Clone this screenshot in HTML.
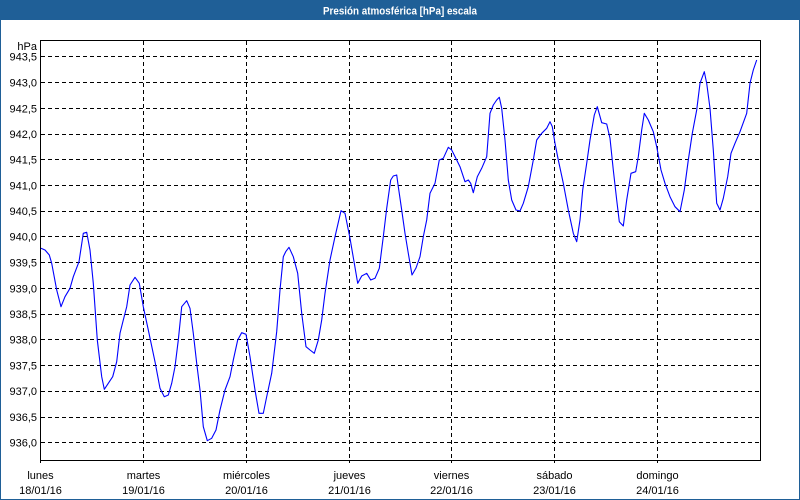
<!DOCTYPE html>
<html><head><meta charset="utf-8"><style>
html,body{margin:0;padding:0;background:#fff;}
svg{display:block;}
text{font-family:"Liberation Sans",sans-serif;}
</style></head><body>
<svg width="800" height="500" viewBox="0 0 800 500" xmlns="http://www.w3.org/2000/svg">
<rect x="0" y="0" width="800" height="500" fill="#fff"/>
<rect x="0" y="0" width="800" height="20" fill="#1f5f97"/>
<rect x="0" y="0" width="1" height="500" fill="#1f5f97"/>
<rect x="799" y="0" width="1" height="500" fill="#1f5f97"/>
<rect x="0" y="499" width="800" height="1" fill="#1f5f97"/>
<text x="400" y="14.5" fill="#fff" font-size="11" font-weight="bold" text-anchor="middle" textLength="154" lengthAdjust="spacingAndGlyphs">Presión atmosférica [hPa] escala</text>

<g stroke="#000" stroke-width="1" stroke-dasharray="4 3" fill="none" shape-rendering="crispEdges">
<line x1="41" y1="56.5" x2="760" y2="56.5"/>
<line x1="41" y1="82.5" x2="760" y2="82.5"/>
<line x1="41" y1="108.5" x2="760" y2="108.5"/>
<line x1="41" y1="134.5" x2="760" y2="134.5"/>
<line x1="41" y1="159.5" x2="760" y2="159.5"/>
<line x1="41" y1="185.5" x2="760" y2="185.5"/>
<line x1="41" y1="211.5" x2="760" y2="211.5"/>
<line x1="41" y1="236.5" x2="760" y2="236.5"/>
<line x1="41" y1="262.5" x2="760" y2="262.5"/>
<line x1="41" y1="288.5" x2="760" y2="288.5"/>
<line x1="41" y1="314.5" x2="760" y2="314.5"/>
<line x1="41" y1="339.5" x2="760" y2="339.5"/>
<line x1="41" y1="365.5" x2="760" y2="365.5"/>
<line x1="41" y1="391.5" x2="760" y2="391.5"/>
<line x1="41" y1="417.5" x2="760" y2="417.5"/>
<line x1="41" y1="442.5" x2="760" y2="442.5"/>
<line x1="143.5" y1="41" x2="143.5" y2="463"/>
<line x1="246.5" y1="41" x2="246.5" y2="463"/>
<line x1="349.5" y1="41" x2="349.5" y2="463"/>
<line x1="451.5" y1="41" x2="451.5" y2="463"/>
<line x1="554.5" y1="41" x2="554.5" y2="463"/>
<line x1="657.5" y1="41" x2="657.5" y2="463"/>
</g>
<g stroke="#000" stroke-width="1" fill="none" shape-rendering="crispEdges">
<rect x="40.5" y="40.5" width="720" height="420"/>
<line x1="40.5" y1="460" x2="40.5" y2="463"/>
</g>

<g font-size="11" fill="#000" text-anchor="end">
<text x="37" y="50">hPa</text>
<text x="37" y="60.5">943,5</text>
<text x="37" y="86.5">943,0</text>
<text x="37" y="112.5">942,5</text>
<text x="37" y="138">942,0</text>
<text x="37" y="163.5">941,5</text>
<text x="37" y="189.5">941,0</text>
<text x="37" y="215">940,5</text>
<text x="37" y="240.5">940,0</text>
<text x="37" y="266.5">939,5</text>
<text x="37" y="292.5">939,0</text>
<text x="37" y="318">938,5</text>
<text x="37" y="343.5">938,0</text>
<text x="37" y="369.5">937,5</text>
<text x="37" y="395">937,0</text>
<text x="37" y="421">936,5</text>
<text x="37" y="446.5">936,0</text>
</g>
<g font-size="11" fill="#000" text-anchor="middle">
<text x="40.5" y="479">lunes</text><text x="40.5" y="494">18/01/16</text>
<text x="143.5" y="479">martes</text><text x="143.5" y="494">19/01/16</text>
<text x="246.5" y="479">miércoles</text><text x="246.5" y="494">20/01/16</text>
<text x="349.5" y="479">jueves</text><text x="349.5" y="494">21/01/16</text>
<text x="451.5" y="479">viernes</text><text x="451.5" y="494">22/01/16</text>
<text x="554.5" y="479">sábado</text><text x="554.5" y="494">23/01/16</text>
<text x="657.5" y="479">domingo</text><text x="657.5" y="494">24/01/16</text>
</g>

<polyline fill="none" stroke="#0000ff" stroke-width="1.1" stroke-linejoin="round" points="
41,248.3 45,250 49.3,255 51.7,263.3 56.7,290 61,306.7 65,296.7 70,288.3 73.3,276.7 79,261.7 83.3,233.3 86.7,232.3 90,250 93.3,283.3 97.3,340 101.7,376.7 104.3,389.3 108.3,383.3 112.7,376.7 116.7,361.7 120,333.3 123.3,320 126.7,306.7 130,285 135,277.3 139.3,283.3 143.3,306.7 148.3,330 155,361.7 160,388.3 164.3,396.7 168.3,395 171.7,383.3 175,366.7 178.3,340 181.7,306.7 186.7,300.7 190,308.3 193.3,333.3 196.7,363.3 200,390 203.3,426.7 207.3,440.7 211.7,438.3 216,430 220,410 225,390 230,376.7 233.3,360 237.7,340 241.7,332.7 246,334.3 250,356.7 255,390 259,413.3 263.3,413.3 266.7,396.7 271.7,373.3 276.7,331.7 280,290 283.3,256.7 285.7,251.7 289,247.3 293.3,256.7 297.7,273.3 301.7,313.3 306,346.7 310,350 314.3,353.3 318.3,340 321.7,320 325,293.3 330,260 335,236.7 341,210.7 345,213.3 350,238.3 354.3,263.3 357.7,283.3 361.7,276 366.7,273.3 370.7,280 375,278.3 379.3,268.3 383.3,236.7 386.7,208.3 390.7,180 393.3,176 396.7,175 398.3,186.7 401.7,210 405,233.3 408.3,253.3 412,275 416,268 420,256.7 423.3,236.7 426.7,220 430,193.3 435,183.3 439.3,160 443.3,158.3 448.3,147.3 451.7,150 456.7,160 460,166.7 465,181.7 468.3,180 470.7,183.3 473.3,192.7 477.3,176.7 481.7,168.3 486.7,156.7 490,113.3 493.3,105 496.7,100 499.3,97.3 501.7,108.3 505,140 508.3,180 511.7,200 516,210 520,211 523.3,203.3 528.3,186.7 533.3,160 536.7,140 541.7,133.3 546.7,128.3 550,121.7 552.3,126.7 555,143.3 558.3,160 563.3,183.3 568.3,210 573.3,233.3 576.7,241.7 580,220 582.7,190 586.7,163.3 590,140 594.3,115 597.3,106.7 601.7,122.7 606.7,124 610,138.3 613.3,170 616.7,200 619.3,221.7 623.3,226 626.7,200 631,173.3 635.7,171.7 638.3,156.7 641.7,130 644.3,113.3 648.3,120 653.3,131.7 656.7,146.7 661,170 665,183.3 670,196.7 675,206.7 680,211.7 684.3,190 688.3,160 692.3,133.3 696.7,110 700,83.3 704.3,71.7 706.7,83.3 710,108.3 713.3,150 716.7,203.3 720,210 723.3,198.3 727.7,176.7 731,153.3 735,143.3 740,131.7 746.7,113.3 750,83.3 753.3,70 756.7,60"/>
</svg>
</body></html>
